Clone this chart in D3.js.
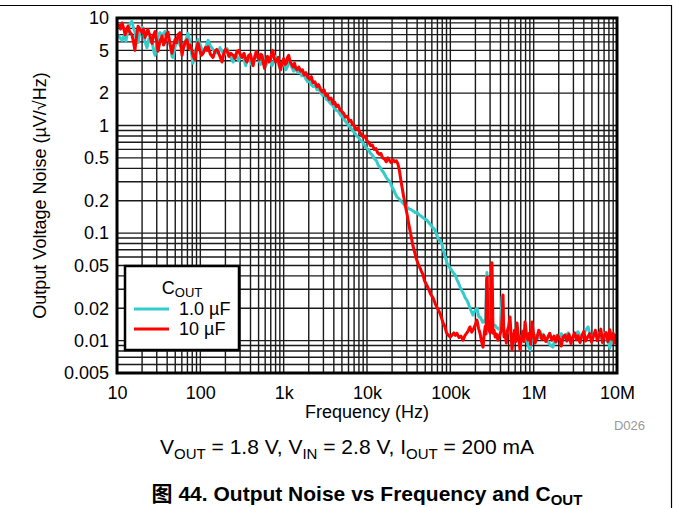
<!DOCTYPE html>
<html><head><meta charset="utf-8">
<script src="https://cdn.jsdelivr.net/npm/d3@7"></script>
<style>
html,body{margin:0;padding:0;background:#fff;}
text{font-family:"Liberation Sans",Arial,Helvetica,sans-serif;}
</style></head>
<body><svg id="c" width="673" height="508"></svg>
<script>
const xTickVals = [10, 100, 1e3, 1e4, 1e5, 1e6, 1e7];
const xTickLabels = ["10", "100", "1k", "10k", "100k", "1M", "10M"];
const yTickVals = [10, 5, 2, 1, 0.5, 0.2, 0.1, 0.05, 0.02, 0.01, 0.005];
const yTickLabels = ["10", "5", "2", "1", "0.5", "0.2", "0.1", "0.05", "0.02", "0.01", "0.005"];
const seriesNames = ["1.0 \u00B5F", "10 \u00B5F"];
const seriesColors = ["#33CCCC", "#FF0000"];

// Cout = 1.0 uF  [frequency Hz, noise uV/rtHz]
const cyanData = [[10.3,7.0],[10.9,6.5],[11.5,6.2],[12.2,6.9],[12.8,6.1],[13.5,7.6],[14.3,8.9],[15.1,9.3],[15.8,8.0],[16.4,7.5],[17.1,6.2],[17.9,5.9],[18.9,7.6],[20,8.2],[20.9,7.3],[21.7,6.0],[22.9,5.3],[24,6.3],[24.9,6.6],[26.3,6.2],[27.4,5.0],[28.6,4.5],[30,5.6],[31.5,7.0],[32.8,7.3],[34.7,6.9],[37.7,7.5],[40.9,6.5],[43.3,5.7],[45.7,4.4],[46.9,4.3],[49.7,5.4],[54,6.5],[57,5.6],[61.9,5.0],[66,6.0],[71,7.2],[75.5,5.8],[81.5,3.8],[86.3,4.6],[93.8,6.3],[100,5.6],[108,4.7],[115,5.2],[124,6.2],[132,5.5],[142,5.1],[152,4.8],[163,4.7],[172,5.3],[182,4.9],[195,4.6],[209,5.2],[225,4.5],[247,3.9],[260,4.5],[275,4.4],[290,4.0],[310,4.6],[330,4.3],[350,3.6],[370,4.2],[390,4.4],[410,3.7],[440,3.9],[470,4.6],[500,4.2],[530,3.7],[560,4.3],[600,3.5],[640,3.9],[680,4.3],[720,3.6],[760,3.9],[800,4.4],[850,4.0],[900,3.4],[950,3.7],[1000,3.9],[1060,3.3],[1120,3.6],[1180,4.0],[1250,3.5],[1320,3.2],[1400,3.4],[1480,3.1],[1560,3.2],[1650,2.9],[1750,3.0],[1850,2.7],[1950,2.55],[2050,2.6],[2150,2.4],[2270,2.3],[2400,2.35],[2520,2.15],[2650,2.2],[2800,2.0],[2950,1.9],[3100,1.95],[3270,1.75],[3450,1.7],[3650,1.6],[3850,1.55],[4050,1.45],[4300,1.38],[4550,1.35],[4800,1.25],[5100,1.2],[5400,1.12],[5700,1.06],[6000,1.0],[6350,0.96],[6700,0.9],[7100,0.86],[7500,0.8],[7900,0.78],[8300,0.73],[8800,0.7],[9300,0.66],[9800,0.62],[10400,0.6],[11000,0.55],[11600,0.53],[12300,0.49],[13000,0.47],[13600,0.43],[14300,0.41],[15200,0.38],[16000,0.36],[17000,0.33],[18000,0.31],[18900,0.3],[19900,0.27],[21000,0.25],[22000,0.23],[22900,0.216],[24000,0.21],[25500,0.2],[27000,0.19],[28500,0.18],[30200,0.175],[32000,0.168],[34000,0.165],[36000,0.16],[37800,0.155],[39800,0.157],[42000,0.148],[44000,0.145],[46500,0.14],[49000,0.136],[52500,0.132],[55000,0.125],[58000,0.12],[61000,0.113],[65500,0.107],[69000,0.095],[72000,0.088],[75500,0.084],[79000,0.08],[83000,0.068],[87000,0.06],[91000,0.053],[96000,0.049],[102000,0.046],[108000,0.043],[114000,0.041],[120000,0.037],[126000,0.034],[131000,0.0315],[138000,0.029],[145000,0.027],[151000,0.025],[158000,0.0238],[165000,0.022],[172000,0.02],[180000,0.0185],[187000,0.0173],[193000,0.0185],[199000,0.019],[205000,0.0198],[209000,0.02],[215000,0.0178],[221000,0.0166],[227000,0.0166],[235000,0.0158],[245000,0.0148],[255000,0.015],[265000,0.016],[270000,0.03],[275000,0.043],[280000,0.025],[288000,0.0155],[298000,0.0145],[310000,0.0148],[320000,0.0142],[332000,0.014],[344000,0.0139],[360000,0.0132],[380000,0.0128],[400000,0.0135],[410000,0.019],[417000,0.0254],[425000,0.014],[440000,0.0125],[460000,0.012],[480000,0.0118],[500000,0.0122],[530000,0.0115],[560000,0.0112],[600000,0.0117],[640000,0.0113],[680000,0.0108],[720000,0.011],[760000,0.0115],[800000,0.0106],[840000,0.0095],[880000,0.0086],[904000,0.0082],[940000,0.0097],[1000000,0.0108],[1060000,0.0112],[1120000,0.0105],[1200000,0.0108],[1300000,0.0115],[1400000,0.0102],[1500000,0.0097],[1600000,0.009],[1700000,0.0087],[1800000,0.0103],[1900000,0.0112],[2000000,0.0108],[2150000,0.0116],[2300000,0.0104],[2450000,0.0112],[2600000,0.0118],[2800000,0.0102],[3000000,0.011],[3200000,0.0115],[3400000,0.0121],[3650000,0.0108],[3900000,0.0114],[4200000,0.0125],[4500000,0.0134],[4750000,0.0112],[5000000,0.0106],[5400000,0.0114],[5800000,0.0119],[6200000,0.0105],[6600000,0.0112],[7000000,0.0117],[7500000,0.0103],[8000000,0.0093],[8200000,0.0085],[8600000,0.0108],[9000000,0.0116],[9500000,0.0102],[10000000,0.0098]];

// Cout = 10 uF  [frequency Hz, noise uV/rtHz]
const redData = [[10.3,8.2],[10.6,8.6],[11.0,7.9],[11.5,9.0],[12.0,8.1],[12.5,7.0],[13.0,7.6],[13.5,8.4],[14.2,7.4],[15.1,7.0],[15.7,6.1],[16.4,5.0],[17.1,6.6],[17.9,8.4],[18.9,7.8],[20,7.3],[20.8,7.9],[21.7,6.6],[22.6,7.2],[23.5,7.8],[24.9,6.8],[26.3,5.8],[27.4,6.9],[28.6,7.5],[29.8,6.2],[31,4.9],[32.8,6.1],[34.7,6.8],[36.2,5.6],[37.7,6.0],[39.3,7.1],[40.9,7.4],[43.3,5.7],[45.7,4.7],[47.5,5.5],[49.7,6.3],[52,5.9],[54,7.0],[57,7.3],[58.5,5.5],[60.3,4.5],[63,5.4],[66,6.0],[69.2,6.3],[72,5.2],[75.5,5.6],[79.4,5.0],[82,4.4],[86.3,4.1],[90,5.2],[93.8,5.9],[98,5.1],[103,4.5],[108,4.7],[115,5.3],[120,5.0],[124,5.4],[132,4.6],[142,4.3],[150,4.9],[157,5.1],[163,4.9],[172,4.4],[182,3.9],[190,4.6],[199,5.1],[209,5.0],[220,4.4],[232,4.7],[247,4.5],[260,4.2],[275,4.9],[290,5.0],[299,4.6],[315,4.3],[335,4.7],[350,4.1],[363,3.9],[380,4.5],[400,4.6],[415,4.0],[430,3.6],[450,4.4],[470,4.9],[490,4.3],[510,4.1],[530,4.6],[550,4.5],[570,3.8],[590,3.4],[615,4.1],[640,4.4],[665,3.9],[690,4.0],[715,4.6],[740,5.0],[770,4.2],[800,3.9],[830,4.1],[860,4.3],[890,3.6],[920,3.3],[960,3.9],[1000,4.2],[1040,3.7],[1080,3.8],[1110,4.3],[1150,4.5],[1200,3.9],[1250,3.7],[1300,3.5],[1350,3.8],[1400,3.4],[1450,3.3],[1520,3.5],[1600,3.2],[1680,3.3],[1760,2.95],[1850,3.1],[1950,2.8],[2050,2.7],[2150,2.85],[2250,2.5],[2370,2.55],[2500,2.3],[2620,2.4],[2750,2.2],[2900,2.05],[3050,2.15],[3200,1.9],[3350,1.95],[3500,1.75],[3700,1.8],[3900,1.6],[4100,1.65],[4300,1.5],[4500,1.55],[4750,1.4],[5000,1.35],[5250,1.3],[5500,1.2],[5800,1.22],[6100,1.1],[6400,1.12],[6700,1.02],[7000,1.0],[7400,0.92],[7800,0.95],[8200,0.86],[8600,0.83],[9000,0.78],[9500,0.8],[10000,0.72],[10500,0.7],[11000,0.65],[11600,0.66],[12200,0.6],[12800,0.61],[13400,0.56],[14000,0.54],[14700,0.55],[15400,0.5],[16200,0.49],[17000,0.46],[17800,0.5],[18700,0.47],[19600,0.45],[20500,0.48],[21500,0.46],[22500,0.47],[23500,0.44],[24500,0.38],[25500,0.31],[26500,0.26],[27500,0.22],[28500,0.19],[29500,0.165],[30500,0.145],[31500,0.125],[32500,0.11],[34000,0.092],[35600,0.076],[37000,0.068],[39000,0.058],[41000,0.052],[43000,0.048],[45000,0.044],[47000,0.041],[49000,0.036],[52000,0.033],[55000,0.03],[58000,0.027],[62000,0.025],[66000,0.022],[70000,0.02],[75000,0.018],[78000,0.0165],[82000,0.0145],[86000,0.0135],[90000,0.0118],[95000,0.0112],[100000,0.0108],[105000,0.0113],[110000,0.0118],[115000,0.0112],[120000,0.0117],[127000,0.0107],[134000,0.011],[142000,0.0101],[150000,0.0112],[158000,0.0118],[165000,0.0125],[172000,0.0134],[180000,0.012],[190000,0.0128],[200000,0.0142],[209000,0.0155],[218000,0.013],[227000,0.0117],[237000,0.0098],[247000,0.0087],[255000,0.0115],[262000,0.0135],[268000,0.0115],[273000,0.037],[277000,0.039],[281000,0.016],[286000,0.0146],[292000,0.0125],[300000,0.0118],[308000,0.014],[312000,0.049],[316000,0.053],[320000,0.03],[325000,0.0117],[335000,0.0125],[345000,0.0108],[358000,0.0115],[373000,0.0101],[390000,0.0112],[410000,0.0125],[420000,0.0175],[429000,0.0265],[435000,0.015],[441000,0.0108],[455000,0.0115],[470000,0.0095],[485000,0.0125],[500000,0.0135],[520000,0.0166],[535000,0.0115],[550000,0.0082],[570000,0.0105],[590000,0.0125],[610000,0.0098],[631000,0.0146],[655000,0.0112],[686000,0.0082],[710000,0.0105],[740000,0.0122],[765000,0.0098],[787000,0.0149],[820000,0.0115],[855000,0.0101],[890000,0.0118],[920000,0.0092],[955000,0.0149],[1000000,0.0112],[1040000,0.0095],[1100000,0.0108],[1150000,0.0125],[1190000,0.012],[1250000,0.0103],[1320000,0.0112],[1400000,0.0098],[1480000,0.0108],[1560000,0.0117],[1650000,0.0101],[1750000,0.011],[1850000,0.0097],[1950000,0.0112],[2050000,0.0104],[2150000,0.0089],[2250000,0.0108],[2380000,0.0113],[2500000,0.0099],[2650000,0.0115],[2800000,0.0094],[2950000,0.0108],[3100000,0.0118],[3250000,0.0102],[3400000,0.0111],[3600000,0.0096],[3800000,0.0112],[4000000,0.0122],[4200000,0.0099],[4450000,0.0108],[4700000,0.0116],[4950000,0.0097],[5200000,0.0109],[5500000,0.0125],[5800000,0.01],[6100000,0.0112],[6400000,0.0128],[6700000,0.0096],[7000000,0.0111],[7400000,0.0119],[7800000,0.0098],[8200000,0.0126],[8600000,0.0103],[9000000,0.0117],[9400000,0.0095],[9800000,0.0112],[10000000,0.0108]];

const svg = d3.select("#c");
const L = 117, R = 617, T = 18, B = 373;
const x = d3.scaleLog().domain([10, 1e7]).range([L, R]);
const y = d3.scaleLog().domain([0.005, 10]).range([B, T]);

svg.append("rect").attr("width", 673).attr("height", 508).attr("fill", "#fff");
// page frame
svg.append("path").attr("d", "M0,5.5H671.5V508").attr("fill", "none").attr("stroke", "#000").attr("stroke-width", 1.2);

// grid
const grid = svg.append("g").attr("stroke", "#1a1a1a").attr("stroke-width", 1.4);
grid.selectAll("line.vx").data(x.ticks()).join("line")
  .attr("x1", d => x(d)).attr("x2", d => x(d)).attr("y1", T).attr("y2", B);
grid.selectAll("line.hy").data(y.ticks()).join("line")
  .attr("y1", d => y(d)).attr("y2", d => y(d)).attr("x1", L).attr("x2", R);

// series
const line = d3.line().x(d => x(d[0])).y(d => y(d[1]));
svg.append("clipPath").attr("id", "pc").append("rect").attr("x", L).attr("y", T).attr("width", R - L).attr("height", B - T);
const lines = svg.append("g").attr("clip-path", "url(#pc)");
[cyanData, redData].forEach((data, i) => {
  lines.append("path").datum(data).attr("d", line).attr("fill", "none")
    .attr("stroke", seriesColors[i]).attr("stroke-width", 3).attr("stroke-linejoin", "round");
});

// plot border
svg.append("rect").attr("x", L).attr("y", T).attr("width", R - L).attr("height", B - T)
  .attr("fill", "none").attr("stroke", "#000").attr("stroke-width", 3);

// axes
const xAxis = d3.axisBottom(x).tickValues(xTickVals).tickFormat((d, i) => xTickLabels[i]).tickSize(0).tickPadding(0);
const gx = svg.append("g").attr("transform", `translate(0,${B})`).call(xAxis);
gx.select(".domain").remove();
gx.selectAll("text").attr("y", 26).attr("dy", null).attr("font-size", 18).attr("fill", "#000")
  .style("font-family", '"Liberation Sans",Arial,sans-serif');

const yAxis = d3.axisLeft(y).tickValues(yTickVals).tickFormat((d, i) => yTickLabels[i]).tickSize(0).tickPadding(0);
const gy = svg.append("g").attr("transform", `translate(${L - 8},0)`).call(yAxis);
gy.select(".domain").remove();
gy.selectAll("text").attr("x", 0).attr("font-size", 18).attr("fill", "#000")
  .style("font-family", '"Liberation Sans",Arial,sans-serif');

// axis titles
svg.append("text").attr("x", (L + R) / 2).attr("y", 418).attr("text-anchor", "middle")
  .attr("font-size", 18).text("Frequency (Hz)");
svg.append("text").attr("transform", `translate(40,${(T + B) / 2}) rotate(-90)`).attr("text-anchor", "middle")
  .attr("dy", "0.35em").attr("font-size", 18).text("Output Voltage Noise (\u00B5V/\u221AHz)");

// D026
svg.append("text").attr("x", 645).attr("y", 430).attr("text-anchor", "end").attr("font-size", 13)
  .attr("fill", "#999").text("D026");

// legend
const lg = svg.append("g");
lg.append("rect").attr("x", 125).attr("y", 266).attr("width", 114).attr("height", 84)
  .attr("fill", "#fff").attr("stroke", "#000").attr("stroke-width", 2.5);
const lt = lg.append("text").attr("x", 182).attr("y", 294).attr("text-anchor", "middle").attr("font-size", 18);
lt.append("tspan").text("C");
lt.append("tspan").attr("font-size", 13).attr("dy", 3).text("OUT");
seriesNames.forEach((n, i) => {
  const yy = 309 + i * 20;
  lg.append("line").attr("x1", 134).attr("x2", 169).attr("y1", yy).attr("y2", yy)
    .attr("stroke", seriesColors[i]).attr("stroke-width", 3);
  lg.append("text").attr("x", 179).attr("y", yy + 6).attr("font-size", 18).text(n);
});

// subtitle
const st = svg.append("text").attr("x", 347).attr("y", 454).attr("text-anchor", "middle").attr("font-size", 21);
const parts = [["V", "OUT", " = 1.8 V, "], ["V", "IN", " = 2.8 V, "], ["I", "OUT", " = 200 mA"]];
parts.forEach(p => {
  st.append("tspan").text(p[0]);
  st.append("tspan").attr("font-size", 15).attr("dy", 5).text(p[1]);
  st.append("tspan").attr("dy", -5).text(p[2]);
});

// caption
const cp = svg.append("text").attr("x", 367).attr("y", 501).attr("text-anchor", "middle")
  .attr("font-size", 21).attr("font-weight", "bold");
cp.append("tspan").style("font-family", '"Noto Sans CJK SC",sans-serif').text("\u56FE");
cp.append("tspan").text(" 44. Output Noise vs Frequency and C");
cp.append("tspan").attr("font-size", 15).attr("dy", 4).text("OUT");
</script></body></html>
